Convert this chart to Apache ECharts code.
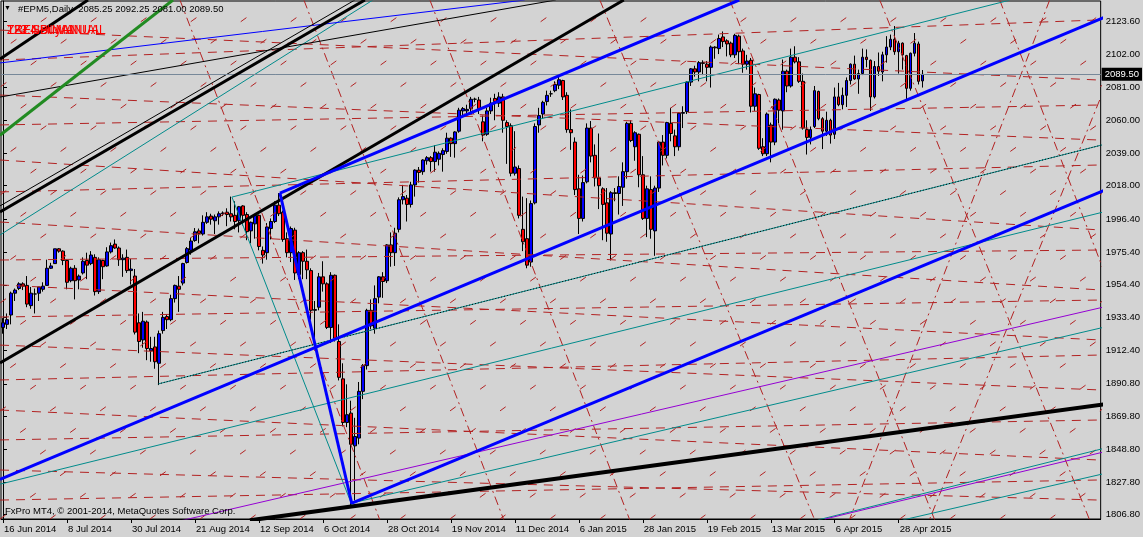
<!DOCTYPE html>
<html><head><meta charset="utf-8">
<script src="https://cdn.jsdelivr.net/npm/echarts@6/dist/echarts.min.js"></script>
<style>html,body{margin:0;padding:0;background:#d3d3d3;}#c{width:1143px;height:537px;}</style>
</head><body><div id="c"></div>
<script>
// ---------- data ----------
const startDate = [2014, 5, 16];
const skipDates = ['2014-12-25', '2015-01-01'];
const barCount = 231;
const emptyBars = 44;
const tickIdx = [0, 16, 32, 48, 64, 80, 96, 112, 128, 144, 160, 176, 192, 208, 224];
const yTicks = [2123.6, 2102.0, 2081.0, 2060.0, 2039.0, 2018.0, 1996.4, 1975.4, 1954.4, 1933.4, 1912.4, 1890.8, 1869.8, 1848.8, 1827.8, 1806.8];
const lastQuote = [2085.25, 2092.25, 2081.00, 2089.50];
const symbolName = '#EPM5,Daily';

const open = [1927,1929,1935,1949,1952,1955,1954,1941,1948.5,1949,1951.5,1954,1965,1968,1977.5,1976,1970,1957,1965,1957.5,
1962,1970,1968,1972,1950,1970,1966.5,1975.5,1980.5,1978,1970.5,1972,1963.5,1960,1930,1919,1930.5,1912,1914.5,1904,
1925,1934,1932,1945.5,1953.5,1955.5,1968.7,1976.5,1982.8,1989,1987,1994.5,1998.5,1995.5,1998,2000,2001,2000,1999,1995.5,
2005,1999.5,1989,1993.5,1999,1976.5,1975,1990.5,1995,2005.5,2001,1984,1975,1989.5,1961,1975,1969.5,1963.5,1938,1940,
1959.5,1955,1927,1960.5,1918,1894,1866,1872,1851,1856,1886,1902.5,1938,1926.5,1946.5,1959.5,1957,1980,1975,1990,
2009,2010,2006,2018.5,2028,2027,2034,2036,2033.5,2035,2038,2040,2048.5,2045,2053,2066,2066,2067.5,2073.5,2073,
2059,2051,2066,2074,2071,2075,2058.5,2056.5,2026,2029,1990,1984,1969,2007,2057,2064,2072,2077,2079,2082.5,
2085.5,2076,2054,2046,2016,1997,2020.5,2055,2037.5,2023,2016,2007,1987,2013.5,2013,2017,2027,2058,2043,2051,
2025,1997,2015.5,1989,2016.5,2046,2037.5,2058,2050,2043,2064.5,2065.5,2084.5,2093,2091,2097,2096,2094,2107,2106,
2113.5,2111,2109.5,2102,2114,2104.5,2096,2098.5,2069,2076.5,2043,2038.5,2057,2046,2073,2066,2091.5,2082,2100.5,2097.5,
2085,2054,2049,2056,2078.5,2061,2053,2060,2051,2075,2070,2076,2085.5,2096,2086.5,2090,2100.5,2098.5,2075,2094.5,
2091,2102,2107,2112,2104,2109.5,2101.5,2080.5,2103,2109,2085.25];
const high = [1933,1936,1950,1952,1956,1956,1960,1953,1952,1953,1956,1970.5,1968.5,1977.5,1978,1976.5,1970.5,1966,1967,1961,
1972,1975,1976,1974,1972,1970.5,1978.5,1981.5,1983.5,1979,1974,1977,1971,1964.5,1936,1937,1931.5,1921,1921,1925,
1937,1935.5,1948,1954.5,1960,1968.5,1978.6,1984.6,1990.8,1990.5,1999,2001,2000,1999.5,2001.5,2001.5,2003.5,2011,2008,2005,
2005.5,2001,1995,1999.5,1999.5,1979,1994,1997,2008,2013.3,2002,1988,1991.8,1991,1976,1976,1977,1965,1944,1962,
1969.5,1956,1962.5,1961,1929,1904,1890.5,1880,1869,1892,1903.5,1939,1945,1954,1960,1962.5,1980.5,1988,1991,2010.5,
2018.5,2012,2020.5,2028.5,2030,2035,2037,2037,2044,2040,2042,2052,2049,2053,2068,2068.5,2070,2075,2074.5,2075,
2063,2068,2074.5,2077,2078,2077,2060,2058,2053,2031,2011,2010,2008.5,2058,2068,2072.5,2079,2079,2085,2088,
2086,2078,2067,2049,2025,2024.5,2058,2059.5,2044.5,2051.5,2017,2016.5,2014.5,2016.5,2024,2033,2059,2060,2053,2051.5,
2037,2018,2024,2018,2046.5,2050.5,2059,2068,2054,2065,2069,2085,2093.5,2095,2098,2098.5,2098,2108,2107.5,2115,
2117,2112,2110.5,2115.5,2115,2106,2102,2100,2081,2077,2048.5,2065,2058.5,2074,2074,2099,2092.5,2106,2107.5,2100.5,
2090,2060,2056,2082,2079,2062,2065.5,2061,2081,2084,2081,2087.5,2096.5,2101.5,2092.5,2106,2105.5,2099,2098,2103.5,
2104,2114,2115,2120.5,2111,2110,2102,2103.5,2116,2110.5,2092.25];
const low = [1923,1926,1929,1944,1951,1951,1940,1939,1936,1944,1950,1954,1964.5,1968,1975,1967,1951.5,1956,1945,1951.5,
1961,1958,1967,1947.5,1948.5,1958,1966,1974.5,1977.5,1966.5,1959.5,1962,1954.5,1922.5,1910.5,1914,1906,1905,1900.5,1890,
1923,1926,1931,1943,1937,1954,1968,1973.7,1982,1981,1986,1993.5,1993,1987,1993,1998.5,1992,1995,1990,1988,
1992.5,1983,1981,1984,1976.5,1968,1970.5,1983.5,1994,1998.5,1982,1972,1969,1957.5,1958,1958,1958,1932,1914.5,1938,
1950,1926,1917,1918,1893,1863.5,1863,1812.5,1816,1852,1881,1900,1926,1923,1942.5,1946,1955.5,1966,1966.5,1988,
2006,1995,2004,2011,2020,2025,2031.5,2027,2027,2031,2027,2038.5,2036.5,2036,2052,2063,2063.5,2064.5,2071.5,2064,
2046.5,2050,2064,2060,2068.5,2052,2032,2024,2024.5,1997,1976,1965,1966,2006,2052,2061,2069.5,2075,2078,2080,
2073,2052,2041,2012,1987,1995,2019.5,2033,2017.5,2003,1983,1982,1970,2008,1999.5,2005,2022.5,2046,2034,2017,
1996,1985,1984,1973,2014,2031,2035.5,2046.5,2037,2040.5,2055,2064,2082,2088,2085,2089,2085,2081,2099.5,2102.5,
2107,2101,2100.5,2100,2096,2090.5,2092.5,2065,2066,2041,2037,2037,2033,2044,2058,2054,2078,2081,2096.5,2084,
2054,2038,2044.5,2055,2060,2041.5,2050,2045,2048,2069,2067,2068.5,2083,2086,2077,2089,2094,2066,2074,2088.5,
2085,2097,2105,2102,2090,2092.5,2072.5,2079,2101,2083,2081];
const close = [1930,1932,1949,1951,1955,1953.5,1942,1949,1948.5,1953,1953.5,1965,1966.5,1977.5,1976,1970,1956,1965,1957,1960,
1969.5,1967,1973.5,1950,1970.5,1966,1975.5,1979.5,1978,1970.5,1971.5,1963.5,1964.5,1924,1918,1931,1913.5,1913.5,1905,1923,
1933.5,1932,1945.5,1954,1951.5,1968,1977.6,1982.5,1988.4,1987.4,1994.5,1998,1996.5,1998,2000,2000.5,1999.5,1998,1995,2004.5,
1999,1988.5,1994.5,1999,1979,1973.5,1991.5,1995,2005.5,2000,1983.5,1975,1990.5,1962,1975,1969.5,1964,1938,1938.5,1959.5,
1955,1927,1960.5,1920,1895,1866,1871,1852,1857,1886,1902.5,1938,1928,1945.5,1959.5,1956.5,1980,1975,1987.5,2009,
2011,2006,2018.5,2028,2026.5,2034.5,2036,2033.5,2039.5,2038.8,2040.5,2048.5,2045,2052.5,2066.5,2067.5,2067,2073.5,2073.5,2067.5,
2050.5,2066,2071,2072,2075,2060,2056,2026,2030,1999,1982,1967,2006.5,2056,2063,2071.5,2076,2077,2083,2086,
2075,2054,2052,2015.5,1997,2020,2055,2037,2023,2018,2006,1987.5,2013.5,2013,2017.5,2027,2058,2047,2052,2025,
1997,2016,1990,2016.5,2046,2037.5,2058.5,2051.5,2043,2064.5,2065,2084.5,2093,2091,2097,2096.5,2094,2107,2106.5,2112.5,
2110.5,2109,2102,2114.5,2104,2096,2098,2069,2077,2042,2038.5,2064,2046,2073.5,2066.5,2091.5,2082,2100.5,2097.5,2085,
2055,2049,2054,2079,2061,2053,2060,2050.5,2075,2070,2076,2085.5,2096,2086.5,2090,2100.5,2099,2075,2094.5,2091.5,
2102,2107,2112,2104,2109.5,2102,2080.5,2103,2109.5,2085,2089.5];

// trend lines: [barIndex1, price1, barIndex2, price2]
const blackThickLines = [[-0.75,1904.2,155.25,2137.2],[-0.75,2001.1,90.5,2137.2],[-0.75,2099.3,21.25,2137.2]];
const blackBottomLine = [[61.75,1803.2,276.75,1878.1]];
const blackThinLines = [[-0.75,2005.0,88,2137.2],[-0.75,2074.9,138.25,2137.2]];
const greenLines = [[-0.75,2050.4,42.5,2137.2]];
const blueThinLines = [[-0.75,2096.8,130.5,2137.2]];
const blueThickLines = [[69.25,2013.3,184.1,2137.2],[-0.75,1829.5,276.75,2127.5],[87.25,1814.3,276.75,2016.5],[69.25,2013.3,87.25,1813.7]];
const tealLines = [[-0.75,1986.4,92.5,2137.2],[57.25,2010.7,87.25,1813.0],[57.25,2010.7,251.75,2137.1],[-0.75,1826.4,276.75,2002.1],
  [87.25,1814.3,276.75,1928.0],[203.75,1803.4,276.75,1850.3],[225,1803.4,276.75,1834.0]];
const tealDottedLines = [[38.75,1890.7,276.75,2045.4]];
const purpleLines = [[44.25,1802.8,276.75,1941.0],[205.5,1804.0,276.75,1848.0]];
const redFlatLines = [[-0.75,2117.9,274.25,2085.8],[-0.75,2098.7,274.25,2124.4],[-0.75,2076.2,274.25,2047.3],[-0.75,2057.0,274.25,2069.8],
  [-0.75,2034.5,274.25,1989.6],[-0.75,2014.0,274.25,2031.3],[-0.75,1994.7,274.25,1951.1],[-0.75,1970.3,274.25,1976.7],
  [-0.75,1954.3,274.25,1919.0],[-0.75,1933.7,274.25,1944.6],[-0.75,1915.7,274.25,1886.9],[-0.75,1893.3,274.25,1909.3],
  [-0.75,1874.0,274.25,1841.9],[-0.75,1854.8,274.25,1867.6],[-0.75,1835.5,274.25,1816.2],[-0.75,1816.2,274.25,1829.1]];
const redSteepLines = [[75.25,2137.2,125.25,1803.4],[44.25,2137.2,94.25,1803.4],[106.75,2137.2,156.75,1803.4],[149.25,2137.2,203,1803.4],
  [181.75,2137.2,233,1803.4],[219.25,2137.2,271.75,1803.4],[249.25,2137.2,299.25,1803.4],[274.25,2073.0,231.75,1804.1],[261.75,2137.2,211.75,1804.1]];
const redRiseLines = [[-163.25,1804.05,17,2137.2],[-150.75,1804.05,29.5,2137.2],[-138.25,1804.05,42,2137.2],[-125.75,1804.05,54.5,2137.2],
  [-113.25,1804.05,67,2137.2],[-100.75,1804.05,79.5,2137.2],[-88.25,1804.05,92,2137.2],[-75.75,1804.05,104.5,2137.2],
  [-63.25,1804.05,117,2137.2],[-50.75,1804.05,129.5,2137.2],[-38.25,1804.05,142,2137.2],[-25.75,1804.05,154.5,2137.2],
  [-13.25,1804.05,167,2137.2],[-0.75,1804.05,179.5,2137.2],[11.75,1804.05,192,2137.2],[24.25,1804.05,204.5,2137.2],
  [36.75,1804.05,217,2137.2],[49.25,1804.05,229.5,2137.2],[61.75,1804.05,242,2137.2],[74.25,1804.05,254.5,2137.2],
  [86.75,1804.05,267,2137.2],[99.25,1804.05,279.5,2137.2],[111.75,1804.05,292,2137.2],[124.25,1804.05,304.5,2137.2],
  [136.75,1804.05,317,2137.2],[149.25,1804.05,329.5,2137.2],[161.75,1804.05,342,2137.2],[174.25,1804.05,354.5,2137.2],
  [186.75,1804.05,367,2137.2],[199.25,1804.05,379.5,2137.2],[211.75,1804.05,392,2137.2],[224.25,1804.05,404.5,2137.2],
  [236.75,1804.05,417,2137.2],[249.25,1804.05,429.5,2137.2],[261.75,1804.05,442,2137.2]];

// ---------- build ----------
const MON = ['Jan','Feb','Mar','Apr','May','Jun','Jul','Aug','Sep','Oct','Nov','Dec'];
const dates = [];
const dd = new Date(Date.UTC(startDate[0], startDate[1], startDate[2]));
while (dates.length < barCount) {
  const wd = dd.getUTCDay();
  const iso = dd.toISOString().slice(0, 10);
  if (wd !== 0 && wd !== 6 && skipDates.indexOf(iso) < 0) {
    dates.push(dd.getUTCDate() + ' ' + MON[dd.getUTCMonth()] + ' ' + dd.getUTCFullYear());
  }
  dd.setUTCDate(dd.getUTCDate() + 1);
}
const categories = dates.slice();
for (let k = 0; k < emptyBars; k++) categories.push('_' + k);
const candles = open.map((o, i) => [o, close[i], low[i], high[i]]);

const FONT = "'Liberation Sans', Arial, sans-serif";
const YMIN = 1804.05, YMAX = 2136.56;

function seg(name, arr, color, width, type, z) {
  return {
    type: 'lines', name, coordinateSystem: 'cartesian2d', xAxisIndex: 1, yAxisIndex: 0,
    silent: true, clip: true, z: z, animation: false,
    lineStyle: { color, width, type, opacity: 1, curveness: 0 },
    data: arr.map(s => ({ coords: [[s[0], s[1]], [s[2], s[3]]] }))
  };
}

const chart = echarts.init(document.getElementById('c'), null, { renderer: 'canvas' });
chart.setOption({
  animation: false,
  backgroundColor: '#d3d3d3',
  grid: { left: 1, top: 1, width: 1100, height: 518, show: true, borderColor: '#000', borderWidth: 1, backgroundColor: 'transparent' },
  xAxis: [{
    type: 'category', data: categories, boundaryGap: true, position: 'bottom',
    axisLine: { show: true, lineStyle: { color: '#000', width: 1 } },
    axisTick: { show: true, alignWithLabel: true, length: 4, lineStyle: { color: '#000' }, interval: (i) => tickIdx.indexOf(i) >= 0 },
    axisLabel: { show: true, interval: (i) => tickIdx.indexOf(i) >= 0, align: 'left', margin: 5, padding: [0, 0, 0, 1],
      color: '#000', fontSize: 9.5, fontFamily: FONT },
    splitLine: { show: false }
  }, {
    type: 'value', min: -0.5, max: 274.5, show: false, gridIndex: 0
  }],
  yAxis: [{
    type: 'value', position: 'right', min: YMIN, max: YMAX, scale: true,
    axisLine: { show: true, lineStyle: { color: '#000', width: 1 } },
    axisTick: { show: true, length: 4, customValues: yTicks, lineStyle: { color: '#000' } },
    axisLabel: { show: true, customValues: yTicks, formatter: (v) => v.toFixed(2), margin: 5, color: '#000', fontSize: 9.5, fontFamily: FONT },
    splitLine: { show: false }
  }],
  series: [
    {
      type: 'candlestick', data: candles, xAxisIndex: 0, yAxisIndex: 0, barWidth: 3, z: 2,
      itemStyle: { color: '#0000ff', color0: '#ff0000', borderColor: '#000', borderColor0: '#000', borderWidth: 1 },
      markLine: {
        silent: true, symbol: ['none', 'none'], animation: false,
        lineStyle: { color: '#778899', type: 'solid', width: 1 },
        label: { show: true, position: 'end', distance: 1, formatter: lastQuote[3].toFixed(2),
          backgroundColor: '#000', color: '#fff', padding: [2, 3, 1, 3], fontSize: 9.5, fontFamily: FONT },
        data: [{ yAxis: lastQuote[3] }]
      }
    },
    seg('redRise', redRiseLines, '#b22222', 1, [7, 30], 3),
    seg('redFlat', redFlatLines, '#b22222', 1, [9, 7], 3),
    seg('redSteep', redSteepLines, '#b22222', 1, [9, 4, 2, 4], 3),
    seg('teal', tealLines, '#008b8b', 1, 'solid', 4),
    seg('tealDot', tealDottedLines, '#008b8b', 1, 'solid', 4),
    seg('tealDotBlack', tealDottedLines, '#000000', 1, [1, 2], 4),
    seg('purple', purpleLines, '#9400d3', 1, 'solid', 4),
    seg('blueThin', blueThinLines, '#0000ff', 1, 'solid', 4),
    seg('blackThin', blackThinLines, '#000000', 1, 'solid', 4),
    seg('green', greenLines, '#228b22', 3, 'solid', 5),
    seg('blackThick', blackThickLines, '#000000', 3, 'solid', 5),
    seg('blackBottom', blackBottomLine, '#000000', 4, 'solid', 5),
    seg('blueThick', blueThickLines, '#0000ff', 3, 'solid', 6)
  ],
  graphic: [
    { type: 'text', left: 4, top: 5, z: 100, style: { text: '\u25BC', fill: '#000', font: "7px " + FONT } },
    { type: 'text', left: 18, top: 4, z: 100, style: { text: symbolName + '  ' + lastQuote.map(v => v.toFixed(2)).join(' '), fill: '#000', font: "9.5px " + FONT } },
    { type: 'text', left: 7, top: 25, z: 100, style: { text: 'TREND MANUAL', fill: '#ff0000', font: "12px " + FONT } },
    { type: 'text', left: 7, top: 25, z: 100, style: { text: 'ZZZ Sell MANUAL', fill: '#ff0000', font: "12px " + FONT } },
    { type: 'text', left: 7, top: 25, z: 100, style: { text: '123.4 BuyAll', fill: '#ff0000', font: "12px " + FONT } },
    { type: 'text', left: 5, top: 506, z: 100, style: { text: 'FxPro MT4, \u00A9 2001-2014, MetaQuotes Software Corp.', fill: '#000', font: "9.5px " + FONT } }
  ]
});
</script></body></html>
